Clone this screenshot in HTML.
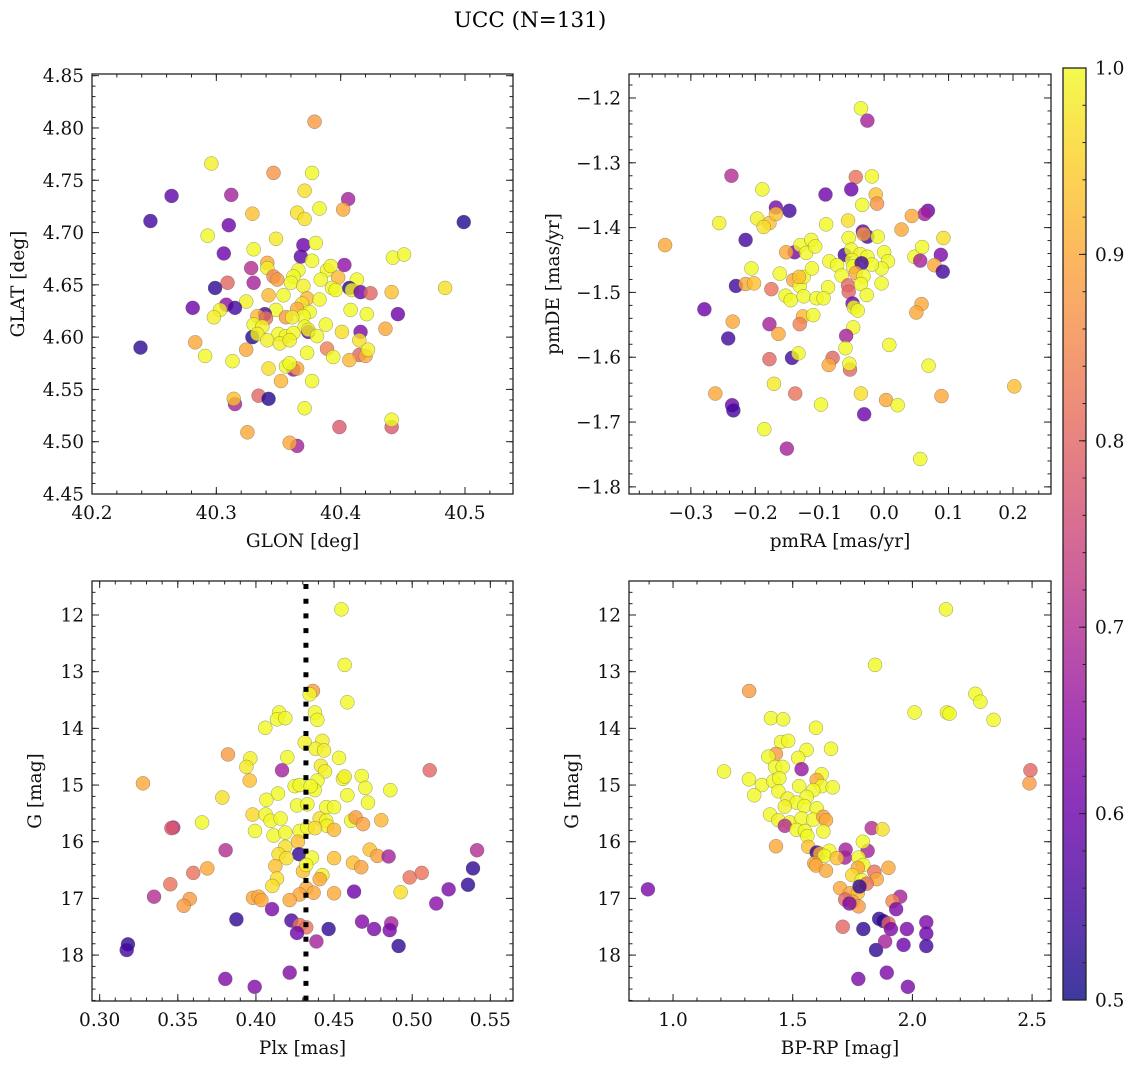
<!DOCTYPE html>
<html><head><meta charset="utf-8">
<style>
body{margin:0;background:#fff;}
svg{display:block;font-family:"DejaVu Serif","Liberation Serif",serif;}
</style></head>
<body>
<svg id="fig" width="1136" height="1068" viewBox="0 0 1136 1068" xmlns="http://www.w3.org/2000/svg">
<rect width="1136" height="1068" fill="#fff"/>
<text x="530" y="27" font-size="21.5" text-anchor="middle">UCC (N=131)</text>
<defs>
<linearGradient id="plasma" x1="0" y1="1" x2="0" y2="0">
<stop offset="0" stop-color="#0d0887"/><stop offset="0.1" stop-color="#41049d"/><stop offset="0.2" stop-color="#6a00a8"/><stop offset="0.3" stop-color="#8f0da4"/><stop offset="0.4" stop-color="#b12a90"/><stop offset="0.5" stop-color="#cc4778"/><stop offset="0.6" stop-color="#e16462"/><stop offset="0.7" stop-color="#f2844b"/><stop offset="0.8" stop-color="#fca636"/><stop offset="0.9" stop-color="#fcce25"/><stop offset="1" stop-color="#f0f921"/>
</linearGradient>
</defs>
<g id="root"></g>
</svg>
<script>
// ---- Panel 1 data: GLON / GLAT ----
const glon=[40.379,40.296,40.346,40.377,40.371,40.264,40.312,40.406,40.402,40.247,40.499,40.310,40.329,40.365,40.371,40.383,40.293,40.348,40.370,40.380,40.330,40.306,40.368,40.377,40.442,40.451,40.403,40.328,40.341,40.341,40.346,40.349,40.366,40.362,40.360,40.370,40.389,40.392,40.384,40.398,40.413,40.330,40.309,40.299,40.393,40.396,40.407,40.409,40.416,40.424,40.441,40.484,40.342,40.354,40.373,40.324,40.383,40.369,40.281,40.308,40.315,40.303,40.298,40.348,40.339,40.333,40.340,40.365,40.375,40.370,40.356,40.361,40.408,40.421,40.446,40.330,40.337,40.371,40.374,40.374,40.388,40.436,40.401,40.416,40.329,40.333,40.350,40.356,40.362,40.381,40.341,40.351,40.359,40.415,40.239,40.283,40.324,40.389,40.373,40.415,40.420,40.422,40.291,40.394,40.407,40.313,40.342,40.362,40.365,40.356,40.359,40.352,40.377,40.334,40.342,40.315,40.314,40.371,40.399,40.441,40.441,40.325,40.365,40.359];
const glat=[4.806,4.766,4.757,4.757,4.740,4.735,4.736,4.732,4.722,4.711,4.710,4.707,4.718,4.719,4.713,4.723,4.697,4.694,4.688,4.690,4.684,4.680,4.677,4.673,4.676,4.679,4.669,4.666,4.671,4.666,4.658,4.655,4.664,4.658,4.652,4.649,4.664,4.668,4.655,4.657,4.655,4.652,4.652,4.647,4.647,4.645,4.647,4.645,4.643,4.642,4.643,4.647,4.640,4.640,4.637,4.634,4.636,4.632,4.628,4.631,4.628,4.626,4.619,4.626,4.622,4.620,4.618,4.627,4.624,4.620,4.619,4.619,4.626,4.622,4.622,4.612,4.610,4.610,4.605,4.607,4.612,4.608,4.605,4.605,4.600,4.603,4.603,4.601,4.604,4.601,4.597,4.594,4.597,4.597,4.590,4.595,4.588,4.589,4.585,4.583,4.582,4.588,4.582,4.581,4.578,4.577,4.570,4.569,4.570,4.572,4.575,4.558,4.558,4.544,4.541,4.536,4.541,4.532,4.514,4.514,4.521,4.509,4.496,4.499];
const c1=[0.88,0.99,0.87,1.0,0.97,0.58,0.68,0.68,0.9,0.55,0.52,0.6,0.93,0.97,0.97,1.0,1.0,0.98,0.6,1.0,1.0,0.6,0.58,1.0,1.0,1.0,0.65,0.7,0.9,0.99,0.85,0.88,1.0,1.0,1.0,0.99,1.0,0.99,1.0,0.92,1.0,0.68,0.8,0.53,1.0,1.0,0.52,0.99,0.6,0.8,0.93,0.97,0.92,1.0,0.92,0.99,1.0,0.97,0.6,0.65,0.55,0.99,0.99,1.0,0.55,0.92,0.82,0.9,1.0,1.0,0.88,0.99,1.0,1.0,0.6,1.0,0.99,1.0,0.58,0.99,1.0,0.9,0.97,0.62,0.52,0.99,1.0,1.0,1.0,1.0,0.99,0.99,0.99,0.97,0.53,0.9,0.9,0.84,1.0,0.8,0.9,0.99,1.0,1.0,0.92,1.0,0.97,0.65,0.9,1.0,1.0,0.92,1.0,0.8,0.52,0.68,0.93,1.0,0.78,0.78,1.0,0.9,0.68,0.9];
// ---- Panel 2 data: pmRA / pmDE ----
const pmra=[-0.036,-0.026,-0.237,-0.044,-0.019,-0.189,-0.091,-0.051,-0.013,-0.011,-0.034,-0.168,-0.147,0.068,0.063,0.043,-0.256,-0.197,-0.178,-0.187,-0.168,-0.090,-0.056,0.027,-0.340,-0.215,-0.033,-0.026,-0.032,-0.010,-0.055,0.092,-0.139,-0.152,-0.130,-0.121,-0.113,-0.107,-0.061,-0.051,-0.037,-0.026,0.000,0.047,0.059,0.088,0.056,0.078,0.091,0.006,-0.004,-0.019,-0.085,-0.073,-0.050,-0.048,-0.035,-0.206,-0.162,-0.066,-0.044,-0.032,-0.230,-0.215,-0.202,-0.141,-0.131,-0.125,-0.112,-0.132,-0.175,-0.056,-0.055,-0.036,-0.004,-0.087,-0.153,-0.145,-0.125,-0.105,-0.094,-0.027,-0.279,-0.049,-0.047,-0.041,0.058,0.050,-0.235,-0.126,-0.110,-0.131,-0.178,-0.164,-0.048,-0.242,-0.059,0.008,-0.060,-0.143,-0.133,-0.178,-0.080,-0.086,-0.053,-0.054,0.069,-0.171,-0.262,-0.138,-0.036,0.202,0.003,0.021,0.089,-0.098,-0.236,-0.234,-0.031,-0.186,-0.151,0.056];
const pmde=[-1.216,-1.235,-1.320,-1.322,-1.321,-1.341,-1.349,-1.341,-1.349,-1.363,-1.365,-1.369,-1.374,-1.374,-1.379,-1.382,-1.393,-1.386,-1.393,-1.399,-1.379,-1.395,-1.389,-1.403,-1.427,-1.419,-1.406,-1.414,-1.410,-1.414,-1.416,-1.416,-1.438,-1.438,-1.427,-1.439,-1.419,-1.429,-1.442,-1.434,-1.441,-1.445,-1.438,-1.445,-1.430,-1.442,-1.451,-1.458,-1.468,-1.452,-1.463,-1.457,-1.452,-1.458,-1.450,-1.460,-1.455,-1.463,-1.471,-1.474,-1.470,-1.475,-1.490,-1.487,-1.486,-1.481,-1.490,-1.476,-1.463,-1.476,-1.495,-1.489,-1.499,-1.487,-1.486,-1.492,-1.505,-1.512,-1.506,-1.509,-1.509,-1.504,-1.526,-1.517,-1.523,-1.528,-1.518,-1.531,-1.545,-1.537,-1.535,-1.549,-1.549,-1.564,-1.554,-1.571,-1.567,-1.581,-1.586,-1.601,-1.594,-1.603,-1.601,-1.612,-1.619,-1.610,-1.613,-1.641,-1.656,-1.656,-1.656,-1.645,-1.666,-1.674,-1.660,-1.673,-1.674,-1.682,-1.688,-1.711,-1.741,-1.757];
const c2=[1.0,0.68,0.7,0.82,1.0,1.0,0.6,0.6,0.93,0.87,1.0,0.62,0.55,0.6,0.68,0.9,0.99,0.99,0.93,0.97,0.93,1.0,0.97,0.9,0.9,0.55,0.58,0.55,0.88,1.0,1.0,0.97,0.62,0.9,1.0,1.0,1.0,1.0,0.55,1.0,0.99,1.0,1.0,1.0,1.0,0.62,0.68,0.9,0.55,1.0,1.0,1.0,1.0,1.0,1.0,1.0,0.55,1.0,1.0,1.0,0.9,1.0,0.55,0.9,0.93,0.9,1.0,1.0,1.0,0.93,0.82,0.8,0.8,1.0,1.0,1.0,1.0,1.0,1.0,1.0,1.0,1.0,0.6,0.6,1.0,1.0,0.9,0.9,0.9,0.92,1.0,0.84,0.68,0.9,1.0,0.55,0.68,1.0,1.0,0.55,1.0,0.8,0.8,0.9,0.8,1.0,1.0,0.98,0.9,0.82,0.97,0.93,0.9,1.0,0.9,1.0,0.6,0.55,0.6,1.0,0.68,1.0];
// ---- Panel 3 data: Plx / G ----
const plx=[0.4547,0.4568,0.4585,0.4365,0.4344,0.4148,0.4135,0.4188,0.4378,0.4393,0.4060,0.4312,0.4425,0.4382,0.4436,0.3821,0.3964,0.4201,0.4532,0.3939,0.4167,0.4416,0.4442,0.5112,0.3277,0.3960,0.4248,0.4280,0.4393,0.4376,0.4557,0.4568,0.4677,0.4700,0.4860,0.3785,0.4141,0.4067,0.4350,0.4585,0.4717,0.4263,0.4329,0.4450,0.4500,0.3979,0.4062,0.4094,0.4158,0.4408,0.4450,0.4455,0.3655,0.3471,0.3459,0.3994,0.4113,0.4188,0.4280,0.4329,0.4378,0.4500,0.4610,0.4638,0.4685,0.4802,0.3806,0.4188,0.4269,0.4276,0.4145,0.4195,0.4359,0.4500,0.4728,0.4777,0.4849,0.5415,0.3689,0.4124,0.4621,0.4674,0.5389,0.3599,0.4301,0.4322,0.4425,0.4408,0.4984,0.5061,0.3452,0.4135,0.4105,0.5357,0.5233,0.4628,0.4926,0.4322,0.4280,0.4369,0.4500,0.3348,0.3576,0.3538,0.3981,0.4017,0.4035,0.4216,0.5154,0.4103,0.3875,0.4227,0.4280,0.4322,0.4263,0.4465,0.4679,0.4756,0.4866,0.4856,0.3181,0.3173,0.4387,0.4913,0.3804,0.3992,0.4216];
const g3=[11.90,12.88,13.54,13.34,13.40,13.72,13.84,13.82,13.72,13.85,13.99,14.25,14.22,14.36,14.39,14.46,14.53,14.51,14.52,14.68,14.74,14.66,14.76,14.74,14.97,14.92,15.02,15.00,14.92,15.09,14.89,14.85,14.84,15.05,15.09,15.22,15.15,15.26,15.02,15.18,15.31,15.36,15.34,15.39,15.39,15.52,15.52,15.63,15.59,15.59,15.63,15.72,15.66,15.75,15.76,15.81,15.89,15.84,15.81,15.75,15.76,15.79,15.63,15.57,15.69,15.62,16.15,16.09,16.00,16.22,16.22,16.29,16.28,16.29,16.14,16.25,16.26,16.15,16.47,16.43,16.37,16.45,16.47,16.55,16.52,16.41,16.59,16.66,16.63,16.55,16.75,16.65,16.78,16.76,16.84,16.88,16.89,16.82,16.93,16.90,16.91,16.97,17.01,17.13,16.99,16.97,17.03,17.03,17.09,17.19,17.37,17.39,17.47,17.51,17.61,17.54,17.41,17.54,17.44,17.56,17.81,17.91,17.76,17.84,18.42,18.56,18.31];
const c3=[1.0,1.0,1.0,0.88,1.0,1.0,1.0,1.0,1.0,1.0,1.0,0.99,0.99,0.99,0.99,0.88,0.99,1.0,1.0,0.98,0.68,0.98,0.99,0.8,0.9,0.93,1.0,1.0,1.0,1.0,1.0,0.99,1.0,1.0,1.0,0.97,1.0,1.0,1.0,1.0,1.0,1.0,1.0,1.0,1.0,0.96,1.0,1.0,1.0,0.97,1.0,0.99,1.0,0.7,0.78,1.0,1.0,1.0,1.0,1.0,0.97,0.92,1.0,0.88,0.89,0.92,0.7,0.97,0.93,0.53,0.97,0.97,1.0,0.93,0.93,0.89,0.68,0.7,0.9,0.93,0.93,0.89,0.53,0.82,0.93,1.0,0.99,0.9,0.82,0.82,0.82,0.97,0.97,0.53,0.62,0.6,0.97,0.9,0.9,0.9,0.9,0.7,0.88,0.88,0.9,0.9,0.9,0.9,0.64,0.62,0.53,0.56,0.82,0.82,0.6,0.53,0.63,0.62,0.68,0.62,0.53,0.55,0.68,0.53,0.63,0.63,0.63];
// ---- Panel 4 data: BP-RP / G ----
const bprp=[2.140,1.844,1.318,2.009,2.263,2.284,2.144,2.155,2.339,1.409,1.460,1.597,1.451,1.481,1.660,1.430,1.398,1.558,1.523,1.213,1.426,1.458,1.537,1.621,1.600,1.317,1.371,1.419,1.444,1.527,1.621,1.667,1.339,1.440,1.586,1.558,1.479,1.516,1.549,1.467,1.600,1.405,1.440,1.488,1.537,1.586,1.628,1.639,1.467,1.516,1.551,1.628,1.561,1.830,1.875,1.430,1.565,1.600,1.614,1.653,1.632,1.721,1.718,1.813,1.793,1.684,1.775,1.590,1.597,1.639,1.795,1.772,1.900,1.841,1.851,1.749,1.788,1.809,1.698,1.739,1.772,1.779,1.719,1.751,1.775,1.737,1.949,1.917,1.932,1.709,1.795,1.861,1.879,1.900,1.910,1.977,2.058,2.058,1.848,1.886,1.963,2.058,0.895,1.774,1.893,1.981,2.493,2.489];
const g4=[11.90,12.88,13.34,13.72,13.39,13.53,13.72,13.74,13.85,13.82,13.84,13.99,14.24,14.22,14.36,14.45,14.50,14.38,14.52,14.76,14.68,14.68,14.72,14.81,14.91,14.90,15.00,14.93,14.88,15.02,15.02,15.04,15.18,15.11,15.09,15.21,15.24,15.31,15.37,15.38,15.41,15.52,15.62,15.66,15.59,15.61,15.56,15.62,15.72,15.79,15.81,15.82,15.90,15.76,15.78,16.08,16.09,16.19,16.21,16.16,16.25,16.14,16.28,16.16,16.00,16.29,16.28,16.38,16.42,16.51,16.41,16.46,16.46,16.53,16.66,16.59,16.68,16.74,16.82,16.91,16.90,16.79,17.02,17.06,17.14,17.09,16.97,17.05,17.19,17.50,17.54,17.36,17.40,17.44,17.54,17.54,17.42,17.62,17.91,17.76,17.82,17.84,16.84,18.42,18.31,18.56,14.74,14.97];
const c4=[1.0,1.0,0.88,1.0,1.0,1.0,1.0,1.0,1.0,1.0,1.0,1.0,1.0,1.0,1.0,0.88,1.0,1.0,1.0,1.0,1.0,1.0,0.66,1.0,0.9,1.0,1.0,1.0,1.0,1.0,1.0,1.0,1.0,1.0,1.0,1.0,0.99,1.0,1.0,0.99,1.0,1.0,0.99,0.99,1.0,1.0,0.89,0.9,0.7,1.0,1.0,1.0,1.0,0.7,0.97,0.9,0.93,0.53,0.9,1.0,1.0,0.68,0.68,0.68,1.0,0.93,1.0,0.9,0.9,0.9,1.0,0.9,0.9,0.82,0.9,0.96,1.0,0.82,0.9,0.9,0.93,0.53,0.8,0.9,0.88,0.62,0.68,0.85,0.62,0.8,0.53,0.53,0.53,0.8,0.62,0.62,0.62,0.6,0.53,0.68,0.6,0.55,0.62,0.62,0.62,0.62,0.8,0.88];
// ---- tick labels ----
const p1xt=[40.2,40.3,40.4,40.5];
const p1xl=["40.2","40.3","40.4","40.5"];
const p1yt=[4.45,4.50,4.55,4.60,4.65,4.70,4.75,4.80,4.85];
const p1yl=["4.45","4.50","4.55","4.60","4.65","4.70","4.75","4.80","4.85"];
const p2xt=[-0.3,-0.2,-0.1,0.0,0.1,0.2];
const p2xl=["\u22120.3","\u22120.2","\u22120.1","0.0","0.1","0.2"];
const p2yt=[-1.8,-1.7,-1.6,-1.5,-1.4,-1.3,-1.2];
const p2yl=["\u22121.8","\u22121.7","\u22121.6","\u22121.5","\u22121.4","\u22121.3","\u22121.2"];
const p3xt=[0.30,0.35,0.40,0.45,0.50,0.55];
const p3xl=["0.30","0.35","0.40","0.45","0.50","0.55"];
const gyt=[12,13,14,15,16,17,18];
const gyl=["12","13","14","15","16","17","18"];
const p4xt=[1.0,1.5,2.0,2.5];
const p4xl=["1.0","1.5","2.0","2.5"];
const cbt=[0.5,0.6,0.7,0.8,0.9,1.0];
const cbl=["0.5","0.6","0.7","0.8","0.9","1.0"];
const plxLine=0.432;

const FS=18.5;
const NS="http://www.w3.org/2000/svg";
const root=document.getElementById('root');
function mk(tag,attrs,parent){const e=document.createElementNS(NS,tag);for(const k in attrs)e.setAttribute(k,attrs[k]);(parent||root).appendChild(e);return e;}
const PL=[[0,[13,8,135]],[0.1,[65,4,157]],[0.2,[106,0,168]],[0.3,[143,13,164]],[0.4,[177,42,144]],[0.5,[204,71,120]],[0.6,[225,100,98]],[0.7,[242,132,75]],[0.8,[252,166,54]],[0.9,[252,206,37]],[1,[240,249,33]]];
function plasma(v){let t=Math.max(0,Math.min(1,(v-0.5)/0.5));for(let i=0;i<PL.length-1;i++){if(t<=PL[i+1][0]){const f=(t-PL[i][0])/(PL[i+1][0]-PL[i][0]);const a=PL[i][1],b=PL[i+1][1];return 'rgb('+a.map((x,j)=>Math.round(x+(b[j]-x)*f)).join(',')+')';}}return 'rgb(240,249,33)';}

function panel(p){
  const g=mk('g',{});
  
  
  const sx=v=>p.px0+(v-p.xmin)/(p.xmax-p.xmin)*(p.px1-p.px0);
  const sy=p.inv?(v=>p.py0+(v-p.ymin)/(p.ymax-p.ymin)*(p.py1-p.py0)):(v=>p.py1-(v-p.ymin)/(p.ymax-p.ymin)*(p.py1-p.py0));
  const pts=mk('g',{},g);
  
  
  for(let i=0;i<p.xs.length;i++){
    const c=mk('circle',{cx:sx(p.xs[i]),cy:sy(p.ys[i]),r:7,fill:plasma(p.cs[i]),'fill-opacity':0.8,stroke:'#555','stroke-width':0.5,'stroke-opacity':0.6},pts);
    
    
  }
  if(p.vline!==undefined){
    const l=mk('line',{x1:sx(p.vline),x2:sx(p.vline),y1:p.py0+3,y2:p.py1,stroke:'#000','stroke-width':5,'stroke-dasharray':'5 9.7'},g);
    
    
  }
  const fr=mk('rect',{x:p.px0,y:p.py0,width:p.px1-p.px0,height:p.py1-p.py0,fill:'none',stroke:'#222','stroke-width':1.3},g);
  
  
  const tk=mk('g',{stroke:'#222','stroke-width':1},g);
  
  
  const eps=1e-9;
  function xt(v,len){const x=sx(v);if(x<p.px0-0.5||x>p.px1+0.5)return;mk('line',{x1:x,x2:x,y1:p.py1,y2:p.py1-len},tk);mk('line',{x1:x,x2:x,y1:p.py0,y2:p.py0+len},tk);}
  function yt(v,len){const y=sy(v);if(y<p.py0-0.5||y>p.py1+0.5)return;mk('line',{x1:p.px0,x2:p.px0+len,y1:y,y2:y},tk);mk('line',{x1:p.px1,x2:p.px1-len,y1:y,y2:y},tk);}
  const lo=Math.min(p.xmin,p.xmax),hi=Math.max(p.xmin,p.xmax);
  for(let k=Math.ceil(lo/p.xminor-eps);k*p.xminor<=hi+eps;k++)xt(k*p.xminor,3.5);
  for(let k=Math.ceil(p.ymin/p.yminor-eps);k*p.yminor<=p.ymax+eps;k++)yt(k*p.yminor,3.5);
  p.xt.forEach((v,i)=>{xt(v,7);const t=mk('text',{x:sx(v),y:p.py1+25,'font-size':FS,'text-anchor':'middle',fill:'#111'},g);t.textContent=p.xl[i];});
  p.yt.forEach((v,i)=>{yt(v,7);const t=mk('text',{x:p.px0-8,y:sy(v)+6.5,'font-size':FS,'text-anchor':'end',fill:'#111'},g);t.textContent=p.yl[i];});
  const xlab=mk('text',{x:(p.px0+p.px1)/2,y:p.py1+53,'font-size':FS,'text-anchor':'middle',fill:'#111'},g);
  xlab.textContent=p.xlabel;
  
  
  const ylab=mk('text',{x:0,y:0,'font-size':FS,'text-anchor':'middle',fill:'#111',transform:'translate('+p.ylx+','+(p.py0+p.py1)/2+') rotate(-90)'},g);
  ylab.textContent=p.ylabel;
  
  
}

panel({name:'glon-glat-panel',px0:92,px1:513,py0:74,py1:494,xmin:40.2,xmax:40.5386,ymin:4.450,ymax:4.8516,xs:glon,ys:glat,cs:c1,xt:p1xt,xl:p1xl,yt:p1yt,yl:p1yl,xminor:0.02,yminor:0.01,xlabel:'GLON [deg]',ylabel:'GLAT [deg]',ylx:24});
panel({name:'pm-panel',px0:629,px1:1051,py0:74,py1:494,xmin:-0.396,xmax:0.259,ymin:-1.811,ymax:-1.163,xs:pmra,ys:pmde,cs:c2,xt:p2xt,xl:p2xl,yt:p2yt,yl:p2yl,xminor:0.02,yminor:0.02,xlabel:'pmRA [mas/yr]',ylabel:'pmDE [mas/yr]',ylx:559});
panel({name:'plx-g-panel',px0:92,px1:513,py0:581,py1:1001,xmin:0.2951,xmax:0.5645,ymin:11.4,ymax:18.81,inv:true,xs:plx,ys:g3,cs:c3,xt:p3xt,xl:p3xl,yt:gyt,yl:gyl,xminor:0.01,yminor:0.2,xlabel:'Plx [mas]',ylabel:'G [mag]',ylx:41,vline:plxLine});
panel({name:'cmd-panel',px0:629,px1:1051,py0:581,py1:1001,xmin:0.816,xmax:2.579,ymin:11.4,ymax:18.81,inv:true,xs:bprp,ys:g4,cs:c4,xt:p4xt,xl:p4xl,yt:gyt,yl:gyl,xminor:0.1,yminor:0.2,xlabel:'BP-RP [mag]',ylabel:'G [mag]',ylx:578});

(function(){
  const x0=1063,x1=1086,y0=68,y1=1000;
  const g=mk('g',{});
  
  
  const r=mk('rect',{x:x0,y:y0,width:x1-x0,height:y1-y0,fill:'url(#plasma)','fill-opacity':0.8,stroke:'#222','stroke-width':1.3},g);
  
  
  const sy=v=>y1-(v-0.5)/0.5*(y1-y0);
  for(let k=50;k<=100;k+=2){const y=sy(k/100);mk('line',{x1:x1,x2:x1-3.5,y1:y,y2:y,stroke:'#222','stroke-width':1},g);}
  cbt.forEach((v,i)=>{const y=sy(v);mk('line',{x1:x1,x2:x1-7,y1:y,y2:y,stroke:'#222','stroke-width':1},g);const t=mk('text',{x:x1+9,y:y+6.5,'font-size':FS,fill:'#111'},g);t.textContent=cbl[i];});
})();
</script>
</body></html>
